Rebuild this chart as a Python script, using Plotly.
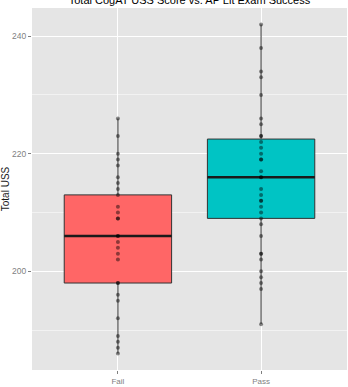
import plotly.graph_objects as go

categories = ["Fail", "Pass"]
cat_pos = [1, 2]

# Box statistics
q1_vals = [198, 209]
median_vals = [206, 216]
q3_vals = [213, 222.5]
lower_vals = [186, 191]
upper_vals = [226, 242]

# Individual points (Total USS)
fail_points = [226, 223, 220, 219, 218, 216, 215, 214, 213, 211, 210, 209,
               206, 205, 204, 203, 202, 198, 196, 195, 192, 189, 188, 187, 186,
               206, 209, 198]
pass_points = [242, 238, 234, 233, 230, 226, 225, 223, 222, 221, 220, 219,
               217, 216, 214, 213, 212, 211, 210, 209, 208, 206, 203, 202,
               200, 199, 198, 197, 191, 216, 219, 212, 223, 203]

fill_colors = ["#FF6666", "#00C4C4"]
box_width = 0.75

fig = go.Figure()

for i, cat in enumerate(categories):
    fig.add_trace(go.Box(
        x=[cat_pos[i]],
        q1=[q1_vals[i]], median=[median_vals[i]], q3=[q3_vals[i]],
        lowerfence=[lower_vals[i]], upperfence=[upper_vals[i]],
        width=box_width, whiskerwidth=0,
        fillcolor=fill_colors[i],
        line=dict(color="#333333", width=1),
        boxpoints=False, showlegend=False, hoverinfo="skip",
        name=cat,
    ))

for i, cat in enumerate(categories):
    fig.add_trace(go.Scatter(
        x=[cat_pos[i] - box_width / 2, cat_pos[i] + box_width / 2],
        y=[median_vals[i], median_vals[i]],
        mode="lines", line=dict(color="#1a1a1a", width=2.5),
        showlegend=False, hoverinfo="skip",
    ))

for pos, pts in zip(cat_pos, [fail_points, pass_points]):
    fig.add_trace(go.Scatter(
        x=[pos] * len(pts), y=pts, mode="markers",
        marker=dict(color="rgba(0,0,0,0.45)", size=4, line=dict(width=0)),
        showlegend=False, hoverinfo="skip",
    ))

font_family = "Liberation Sans, Arial, sans-serif"

fig.update_layout(
    width=348, height=387,
    margin=dict(l=26, r=1, t=8, b=16),
    paper_bgcolor="white",
    plot_bgcolor="#E5E5E5",
    font=dict(family=font_family),
    title=dict(
        text="Total CogAT USS Score vs. AP Lit Exam Success",
        font=dict(size=11, color="black", family=font_family),
        x=0.5, xref="paper", xanchor="center",
        y=0.999, yref="container", yanchor="middle",
    ),
    xaxis=dict(
        range=[0.4, 2.6], tickvals=cat_pos, ticktext=categories,
        showgrid=True, gridcolor="white", gridwidth=1,
        zeroline=False, ticks="outside", ticklen=3, tickcolor="#7F7F7F",
        tickfont=dict(size=8, color="#7F7F7F"), showline=False,
    ),
    yaxis=dict(
        range=[183.2, 244.8], tickvals=[200, 220, 240],
        showgrid=True, gridcolor="white", gridwidth=1,
        minor=dict(tickvals=[190, 210, 230], showgrid=True,
                   gridcolor="#F2F2F2", gridwidth=1),
        zeroline=False, ticks="outside", ticklen=3, tickcolor="#7F7F7F",
        tickfont=dict(size=8.5, color="#7F7F7F"), showline=False,
        title=dict(text="Total USS", font=dict(size=10, color="#1a1a1a"), standoff=4),
    ),
)

fig.write_html("out.html")
